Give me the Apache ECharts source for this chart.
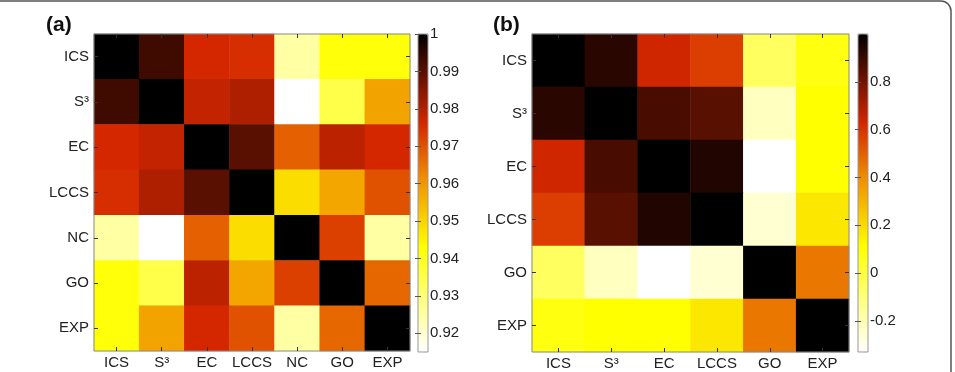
<!DOCTYPE html>
<html>
<head>
<meta charset="utf-8">
<script src="https://cdn.jsdelivr.net/npm/echarts@6/dist/echarts.min.js"></script>
<style>
  html, body { margin: 0; padding: 0; background: #fff; }
  #main { width: 955px; height: 372px; }
</style>
</head>
<body>
<div id="main"></div>
<script>
// 数据
var labelsA = ['ICS', 'S³', 'EC', 'LCCS', 'NC', 'GO', 'EXP'];
var matrixA = [
  [1.000, 0.993, 0.976, 0.975, 0.925, 0.942, 0.942],
  [0.993, 1.000, 0.978, 0.9805, 0.915, 0.935, 0.958],
  [0.976, 0.978, 1.000, 0.990, 0.968, 0.979, 0.976],
  [0.975, 0.9805, 0.990, 1.000, 0.9485, 0.9575, 0.970],
  [0.925, 0.915, 0.968, 0.9485, 1.000, 0.9725, 0.925],
  [0.942, 0.935, 0.979, 0.9575, 0.9725, 1.000, 0.967],
  [0.942, 0.958, 0.976, 0.970, 0.925, 0.967, 1.000]
];
var ticksA = [0.92, 0.93, 0.94, 0.95, 0.96, 0.97, 0.98, 0.99, 1];

var labelsB = ['ICS', 'S³', 'EC', 'LCCS', 'GO', 'EXP'];
var matrixB = [
  [1.000, 0.927, 0.634, 0.574, -0.056, 0.08],
  [0.927, 1.000, 0.872, 0.845, -0.22, 0.11],
  [0.634, 0.872, 1.000, 0.944, -0.33, 0.11],
  [0.574, 0.845, 0.944, 1.000, -0.25, 0.17],
  [-0.056, -0.22, -0.33, -0.25, 1.000, 0.447],
  [0.08, 0.11, 0.11, 0.17, 0.447, 1.000]
];
var ticksB = [-0.2, 0, 0.2, 0.4, 0.6, 0.8];

var rangeA = [0.915, 1.0];
var rangeB = [-0.33, 1.0];

// 颜色表 (白 -> 黄 -> 橙 -> 红 -> 黑)
var stops = [
  [0, [255, 255, 255]],
  [0.33, [255, 255, 0]],
  [0.55, [240, 140, 0]],
  [0.72, [212, 38, 0]],
  [1, [0, 0, 0]]
];
function makeColors(n) {
  var out = [];
  for (var i = 0; i < n; i++) {
    var t = i / (n - 1);
    var k = 0;
    while (k < stops.length - 2 && t > stops[k + 1][0]) k++;
    var a = stops[k], b = stops[k + 1];
    var f = (t - a[0]) / (b[0] - a[0]);
    var c = [0, 1, 2].map(function (j) {
      return Math.round(a[1][j] + (b[1][j] - a[1][j]) * f);
    });
    out.push('rgb(' + c.join(',') + ')');
  }
  return out;
}
var colors = makeColors(101);

function toCells(m) {
  var d = [];
  for (var r = 0; r < m.length; r++) {
    for (var c = 0; c < m[r].length; c++) {
      d.push([c, r, m[r][c]]);
    }
  }
  return d;
}

var font = 'Liberation Sans, Arial, sans-serif';
var tickStyle = { show: true, inside: true, length: 4, alignWithLabel: true, lineStyle: { color: '#333' } };

function catAxis(data, grid, pos, showLabel) {
  return {
    type: 'category', gridIndex: grid, position: pos, data: data,
    inverse: (pos === 'left' || pos === 'right'),
    z: 10,
    axisLine: { show: false },
    axisTick: tickStyle,
    axisLabel: { show: showLabel, interval: 0, color: '#222', fontSize: 15, fontFamily: font, margin: (pos === 'left') ? 5 : 4 },
    splitLine: { show: false }
  };
}

function barAxis(grid, pos, range, ticks, showLabel) {
  return {
    type: 'value', gridIndex: grid, position: pos, min: range[0], max: range[1],
    z: 10,
    axisLine: { show: false },
    splitLine: { show: false },
    axisTick: { show: true, inside: true, length: 3, customValues: ticks, lineStyle: { color: '#555' } },
    axisLabel: { show: showLabel, customValues: ticks, color: '#222', fontSize: 15, fontFamily: font, margin: 2 }
  };
}

var chart = echarts.init(document.getElementById('main'));
chart.setOption({
  animation: false,
  backgroundColor: '#fff',
  title: [
    { text: '(a)', left: 46, top: 15, padding: 0, textStyle: { fontSize: 21, fontWeight: 'bold', color: '#111', fontFamily: font } },
    { text: '(b)', left: 493, top: 15, padding: 0, textStyle: { fontSize: 21, fontWeight: 'bold', color: '#111', fontFamily: font } }
  ],
  graphic: [
    { type: 'rect', shape: { x: -20, y: 1, width: 971, height: 420, r: 10 }, style: { fill: 'none', stroke: '#555', lineWidth: 1.5 }, z: 100 }
  ],
  grid: [
    { left: 94, top: 34, width: 316, height: 317, show: true, borderColor: '#888', borderWidth: 1, z: 10, backgroundColor: 'transparent' },
    { left: 532, top: 34, width: 317, height: 318, show: true, borderColor: '#888', borderWidth: 1, z: 10, backgroundColor: 'transparent' },
    { left: 418, top: 34, width: 10, height: 318, show: true, borderColor: '#999', borderWidth: 1, z: 10, backgroundColor: 'transparent' },
    { left: 858, top: 34, width: 10, height: 318, show: true, borderColor: '#999', borderWidth: 1, z: 10, backgroundColor: 'transparent' }
  ],
  xAxis: [
    catAxis(labelsA, 0, 'bottom', true),
    catAxis(labelsA, 0, 'top', false),
    catAxis(labelsB, 1, 'bottom', true),
    catAxis(labelsB, 1, 'top', false),
    { type: 'value', gridIndex: 2, show: false },
    { type: 'value', gridIndex: 3, show: false }
  ],
  yAxis: [
    catAxis(labelsA, 0, 'left', true),
    catAxis(labelsA, 0, 'right', false),
    catAxis(labelsB, 1, 'left', true),
    catAxis(labelsB, 1, 'right', false),
    barAxis(2, 'right', rangeA, ticksA, true),
    barAxis(2, 'left', rangeA, ticksA, false),
    barAxis(3, 'right', rangeB, ticksB, true),
    barAxis(3, 'left', rangeB, ticksB, false)
  ],
  visualMap: [
    {
      type: 'continuous', seriesIndex: 0, min: rangeA[0], max: rangeA[1],
      calculable: false, hoverLink: false, orient: 'vertical',
      left: 418, top: 34, itemWidth: 10, itemHeight: 318, padding: 0,
      inRange: { color: colors }
    },
    {
      type: 'continuous', seriesIndex: 1, min: rangeB[0], max: rangeB[1],
      calculable: false, hoverLink: false, orient: 'vertical',
      left: 858, top: 34, itemWidth: 10, itemHeight: 318, padding: 0,
      inRange: { color: colors }
    }
  ],
  series: [
    {
      name: 'a', type: 'heatmap', xAxisIndex: 0, yAxisIndex: 0,
      data: toCells(matrixA), emphasis: { disabled: true }
    },
    {
      name: 'b', type: 'heatmap', xAxisIndex: 2, yAxisIndex: 2,
      data: toCells(matrixB), emphasis: { disabled: true }
    }
  ]
});
</script>
</body>
</html>
